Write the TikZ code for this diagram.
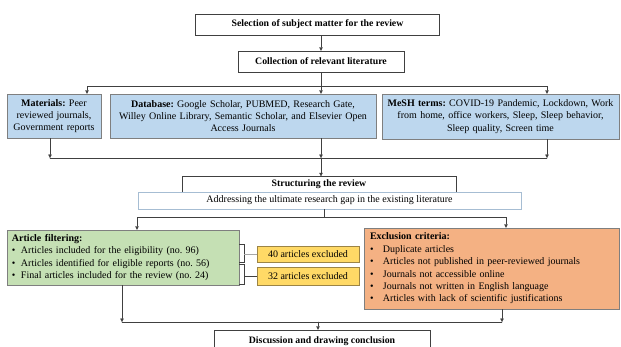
\documentclass[tikz,border=0pt]{standalone}
\usepackage{fontspec}
\setmainfont{Liberation Serif}
\usetikzlibrary{arrows.meta}
\usepackage{xcolor}
\definecolor{boxblue}{HTML}{BDD7EE}
\definecolor{boxgreen}{HTML}{C5E0B4}
\definecolor{boxyellow}{HTML}{FFD966}
\definecolor{boxorange}{HTML}{F4B183}
\definecolor{edgegray}{HTML}{7F7F7F}
\definecolor{edgegold}{HTML}{9C8445}
\definecolor{edgelight}{HTML}{A6BDD3}
\definecolor{linegray}{HTML}{404040}
\tikzset{
  titlebox/.style={draw=linegray,fill=white,inner sep=0pt,font=\fontsize{9.8}{12.3}\selectfont\bfseries},
  gapbox/.style={draw=edgelight,fill=white,inner sep=0pt},
  srcbox/.style={draw=edgegray,fill=boxblue,align=center,inner xsep=3pt,inner ysep=0pt},
  filtbox/.style={draw=edgegray,fill=boxgreen,align=left,inner xsep=5pt,inner ysep=0pt},
  exbox/.style={draw=edgegold,fill=boxyellow,inner sep=0pt},
  exclbox/.style={draw=edgegray,fill=boxorange,align=left,inner xsep=6pt,inner ysep=0pt},
}
\newcommand{\fitem}{\makebox[9pt][l]{\textbullet}}
\newcommand{\eitem}{\makebox[13pt][l]{\textbullet}}
\frenchspacing

\begin{document}
\begin{tikzpicture}[x=1pt,y=-1pt,>={Triangle[length=3.5pt,width=3.5pt]},font=\fontsize{10}{12.4}\selectfont,line cap=round,draw=linegray]
\useasboundingbox (0,0) rectangle (621,346);
% selection and collection
\node[titlebox,minimum width=244,minimum height=21] (sel) at (317.5,24.5) {Selection of subject matter for the review};
\node[titlebox,minimum width=166,minimum height=21] (coll) at (321,61.5) {Collection of relevant literature};
\draw[->] (sel.south -| coll) -- (coll);
% sources
\node[srcbox,text width=88,minimum height=44] (mat) at (54,116) {\textbf{Materials:} Peer\\ reviewed journals,\\ Government reports};
\node[srcbox,text width=260,minimum height=44] (db) at (243,116) {\textbf{Database:} Google Scholar, PUBMED, Research Gate,\\ Willey Online Library, Semantic Scholar, and Elsevier Open\\ Access Journals};
\node[srcbox,text width=231,minimum height=45] (mesh) at (500.5,116.5) {\textbf{MeSH terms:} COVID-19 Pandemic, Lockdown, Work\\ from home, office workers, Sleep, Sleep behavior,\\ Sleep quality, Screen time};
\coordinate (split) at (321,86);
\draw (coll) -- (split);
\draw[->] (split) -| ([xshift=33]mat.north);
\draw[->] (split) -- (split |- db.north);
\draw[->] (split) -| ([xshift=46.5]mesh.north);
\coordinate (mL) at (50,158);
\coordinate (mR) at (547,158);
\coordinate (merge) at (321,158);
\draw[->] (mat.south -| mL) -- (mL);
\draw[->] (db.south -| merge) -- (merge);
\draw[->] (mesh.south -| mR) -- (mR);
\draw (mL) -- (mR);
% structuring
\node[titlebox,minimum width=274,minimum height=16] (struct) at (319,184.5) {Structuring the review};
\node[gapbox,minimum width=383,minimum height=17] (addr) at (329.5,200.5) {Addressing the ultimate research gap in the existing literature};
\draw[->] (merge) -- (merge |- struct.north);
% filtering and exclusion
\node[filtbox,text width=222,minimum height=55] (filt) at (123,257.5) {\textbf{Article filtering:}\\
  \fitem Articles included for the eligibility (no. 96)\\
  \fitem Articles identified for eligible reports (no. 56)\\
  \fitem Final articles included for the review (no. 24)};
\node[exbox,minimum width=102,minimum height=16] (ex40) at (308,254) {40 articles excluded};
\node[exbox,minimum width=102,minimum height=18] (ex32) at (308,276) {32 articles excluded};
\node[exclbox,text width=243,minimum height=81] (excl) at (491.5,268.5) {\textbf{Exclusion criteria:}\\
  \eitem Duplicate articles\\
  \eitem Articles not published in peer-reviewed journals\\
  \eitem Journals not accessible online\\
  \eitem Journals not written in English language\\
  \eitem Articles with lack of scientific justifications};
\coordinate (fork) at (324,217);
\draw (addr.south -| fork) -- (fork);
\draw[->] (fork) -| ([xshift=14]filt.north);
\draw[->] (fork) -| ([xshift=14.5]excl.north);
% brackets to excluded counts
\draw (filt.east) ++(0,-13.5) -- ++(5,0) -- ++(0,18) -- ++(-5,0);
\draw[gray!70] (filt.east) ++(5,-3.5) -- (ex40.west);
\draw (filt.east) ++(0,6.5) -- ++(5,0) -- ++(0,20) -- ++(-5,0);
\draw (filt.east) ++(5,18.5) -- (ex32.west);
% discussion
\node[titlebox,minimum width=216,minimum height=22] (disc) at (322,341) {Discussion and drawing conclusion};
\coordinate (jL) at (122,322);
\coordinate (jR) at (502,322);
\coordinate (join) at (318,322);
\draw[->] (filt.south -| jL) -- (jL);
\draw[->] (excl.south -| jR) -- (jR);
\draw (jL) -- (jR);
\draw[->] (join) -- (join |- disc.north);
\end{tikzpicture}
\end{document}
